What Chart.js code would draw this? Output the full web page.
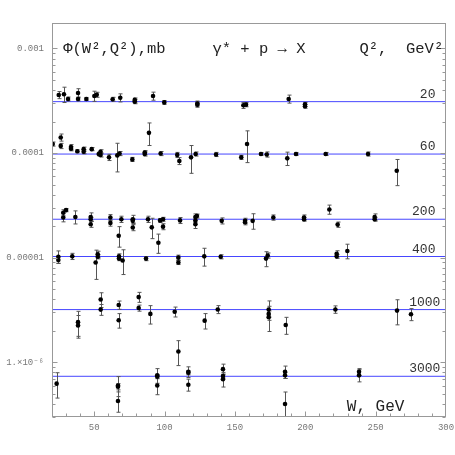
<!DOCTYPE html>
<html lang="en">
<head>
  <meta charset="UTF-8" />
  <title>Phi(W2,Q2) gamma* p</title>
  <script src="https://cdn.jsdelivr.net/npm/chart.js"></script>
  <style>
    * { box-sizing: border-box; margin: 0; padding: 0; }
    body { background: #fff; width: 455px; height: 455px; overflow: hidden; }
    canvas { display: block; }
  </style>
</head>
<body>
<canvas id="chart" width="455" height="455"></canvas>

<script>
  // Q^2 levels (GeV^2) and the flat line drawn through each group
  const q2Labels = ['20', '60', '200', '400', '1000', '3000'];
  const levelValues = [3.10e-4, 9.78e-5, 2.33e-5, 1.026e-5, 3.19e-6, 7.35e-7];

  const xTicks = [50, 100, 150, 200, 250, 300];
  const yTicks = [1e-6, 1e-5, 1e-4, 1e-3];
  const yTickLabels = ['1.×10⁻⁶', '0.00001', '0.0001', '0.001'];

  // Q2 = 20
  const w20 = [24.8, 28.5, 31.4, 38.5, 38.5, 44.4, 50.1, 51.8, 63.1, 68.5, 78.8, 78.8, 91.8, 99.8, 123.3, 123.3, 156.0, 157.9, 188.2, 199.8, 199.8];
  const phi20 = [3.59e-4, 3.65e-4, 3.29e-4, 3.75e-4, 3.29e-4, 3.29e-4, 3.51e-4, 3.61e-4, 3.27e-4, 3.38e-4, 3.22e-4, 3.10e-4, 3.51e-4, 3.05e-4, 2.98e-4, 2.90e-4, 2.86e-4, 2.90e-4, 3.29e-4, 2.92e-4, 2.80e-4];
  const err20 = [2.8e-5, 6.1e-5, 1.4e-5, 3.7e-5, 1.4e-5, 1.1e-5, 3.9e-5, 2.0e-5, 1.4e-5, 3.0e-5, 1.4e-5, 1.4e-5, 3.1e-5, 1.3e-5, 1.6e-5, 1.6e-5, 1.9e-5, 1.3e-5, 2.9e-5, 1.3e-5, 1.2e-5];

  // Q2 = 60
  const w60 = [20.5, 26.2, 26.2, 33.5, 33.5, 38.0, 42.5, 42.5, 48.2, 53.2, 54.5, 54.5, 60.5, 66.4, 68.0, 77.1, 85.9, 85.9, 88.9, 97.2, 109.0, 110.5, 118.8, 122.1, 136.6, 154.5, 158.6, 168.5, 172.6, 187.2, 193.4, 214.5, 244.6, 265.0];
  const phi60 = [1.22e-4, 1.41e-4, 1.17e-4, 1.14e-4, 1.10e-4, 1.04e-4, 1.09e-4, 1.03e-4, 1.09e-4, 9.8e-5, 1.03e-4, 9.6e-5, 9.1e-5, 9.5e-5, 9.9e-5, 8.7e-5, 9.8e-5, 1.01e-4, 1.56e-4, 9.9e-5, 9.6e-5, 8.4e-5, 9.1e-5, 9.8e-5, 9.7e-5, 9.1e-5, 1.22e-4, 9.8e-5, 9.7e-5, 8.9e-5, 9.8e-5, 9.8e-5, 9.8e-5, 6.78e-5];
  const err60 = [5.5e-6, 1.1e-5, 6.7e-6, 6.5e-6, 5.0e-6, 3.5e-6, 5.0e-6, 4.6e-6, 3.7e-6, 4.4e-6, 4.6e-6, 4.3e-6, 6.2e-6, 2.9e-5, 4.5e-6, 3.9e-6, 4.4e-6, 4.5e-6, 3.8e-5, 4.5e-6, 5.4e-6, 6.4e-6, 2.7e-5, 4.4e-6, 4.4e-6, 4.1e-6, 4.1e-5, 3.3e-6, 5.5e-6, 1.3e-5, 3.3e-6, 3.3e-6, 4.4e-6, 1.9e-5];

  // Q2 = 200
  const w200 = [28.0, 28.0, 30.0, 36.6, 47.5, 47.5, 47.5, 61.5, 61.5, 67.4, 69.3, 77.4, 77.4, 77.4, 88.2, 90.9, 95.6, 96.8, 98.9, 98.9, 111.0, 121.9, 121.9, 121.9, 123.0, 140.6, 157.2, 157.2, 162.6, 177.3, 199.1, 199.1, 217.1, 223.0, 249.3, 249.3];
  const phi200 = [2.42e-5, 2.69e-5, 2.85e-5, 2.45e-5, 2.45e-5, 2.33e-5, 2.09e-5, 2.42e-5, 2.15e-5, 1.62e-5, 2.33e-5, 2.33e-5, 2.25e-5, 1.94e-5, 2.33e-5, 1.95e-5, 1.39e-5, 2.27e-5, 2.33e-5, 1.98e-5, 2.27e-5, 2.45e-5, 2.25e-5, 2.09e-5, 2.50e-5, 2.25e-5, 2.25e-5, 2.18e-5, 2.25e-5, 2.42e-5, 2.42e-5, 2.33e-5, 2.89e-5, 2.07e-5, 2.45e-5, 2.33e-5];
  const err200 = [2.2e-6, 1.8e-6, 1.0e-6, 3.5e-6, 2.3e-6, 1.0e-6, 1.4e-6, 1.6e-6, 1.5e-6, 3.6e-6, 1.6e-6, 2.1e-6, 1.0e-6, 1.3e-6, 1.6e-6, 4.3e-6, 2.9e-6, 1.0e-6, 1.0e-6, 1.3e-6, 1.5e-6, 1.7e-6, 1.0e-6, 1.9e-6, 1.1e-6, 1.5e-6, 1.3e-6, 1.2e-6, 3.8e-6, 1.4e-6, 1.4e-6, 1.0e-6, 2.9e-6, 1.2e-6, 1.7e-6, 1.0e-6];

  // Q2 = 400
  const w400 = [24.5, 24.5, 34.4, 51.0, 52.5, 52.5, 67.6, 67.6, 70.2, 86.8, 109.8, 109.8, 128.2, 139.9, 172.1, 173.3, 222.3, 222.3, 229.9];
  const phi400 = [1.02e-5, 9.5e-6, 1.03e-5, 9.0e-6, 1.08e-5, 1.02e-5, 1.03e-5, 9.8e-6, 9.4e-6, 9.8e-6, 1.0e-5, 9.0e-6, 1.03e-5, 1.02e-5, 9.8e-6, 1.05e-5, 1.09e-5, 1.03e-5, 1.16e-5];
  const err400 = [1.4e-6, 6.5e-7, 7.0e-7, 2.8e-6, 7.3e-7, 4.6e-7, 5.8e-7, 4.4e-7, 2.5e-6, 4.4e-7, 5.7e-7, 4.0e-7, 2.0e-6, 4.6e-7, 1.6e-6, 6.0e-7, 7.4e-7, 4.6e-7, 1.85e-6];

  // Q2 = 1000
  const w1000 = [38.5, 38.5, 54.6, 54.6, 67.4, 67.4, 81.6, 81.6, 89.9, 107.2, 128.5, 137.8, 174.0, 174.0, 174.0, 186.1, 221.4, 265.2, 275.1];
  const phi1000 = [2.42e-6, 2.25e-6, 3.98e-6, 3.19e-6, 3.53e-6, 2.52e-6, 4.2e-6, 3.3e-6, 2.90e-6, 3.04e-6, 2.5e-6, 3.2e-6, 3.19e-6, 2.9e-6, 2.7e-6, 2.27e-6, 3.2e-6, 3.12e-6, 2.88e-6];
  const err1000 = [6.5e-7, 5.5e-7, 6.4e-7, 3.8e-7, 3.2e-7, 4.0e-7, 4.6e-7, 2.2e-7, 5.8e-7, 3.3e-7, 4.2e-7, 2.8e-7, 6.7e-7, 2.0e-7, 7.3e-7, 4.2e-7, 2.6e-7, 8.4e-7, 3.8e-7];

  // Q2 = 3000
  const w3000 = [23.3, 66.9, 66.9, 66.9, 94.8, 94.8, 94.8, 109.8, 116.9, 116.9, 116.9, 141.5, 141.5, 141.5, 185.6, 185.6, 185.6, 238.2, 238.2];
  const phi3000 = [6.25e-7, 6.0e-7, 5.85e-7, 4.27e-7, 7.5e-7, 7.3e-7, 6.0e-7, 1.27e-6, 8.1e-7, 7.95e-7, 6.1e-7, 8.6e-7, 7.4e-7, 6.9e-7, 8.1e-7, 7.5e-7, 4.0e-7, 8.1e-7, 7.5e-7];
  const err3000 = [1.7e-7, 1.3e-7, 4.0e-8, 9.4e-8, 1.2e-7, 3.3e-8, 1.1e-7, 3.4e-7, 9.5e-8, 3.6e-8, 8.0e-8, 1.0e-7, 3.3e-8, 1.1e-7, 1.1e-7, 5.0e-8, 1.2e-7, 6.0e-8, 1.0e-7];

  const groups = [
    [w20, phi20, err20],
    [w60, phi60, err60],
    [w200, phi200, err200],
    [w400, phi400, err400],
    [w1000, phi1000, err1000],
    [w3000, phi3000, err3000]
  ];

  const X_MIN = 20, X_MAX = 300;
  const Y_MIN = 3e-7, Y_MAX = 1.75e-3;
  const MONO = '"Liberation Mono", "DejaVu Sans Mono", monospace';

  const datasets = [];
  groups.forEach(([w, phi, err], g) => {
    datasets.push({
      type: 'scatter',
      label: 'Q2=' + q2Labels[g],
      data: w.map((x, i) => ({ x: x, y: phi[i] })),
      errors: err,
      pointRadius: 2.3,
      pointHoverRadius: 2.3,
      pointStyle: 'circle',
      backgroundColor: '#000',
      borderWidth: 0,
      order: 0
    });
    datasets.push({
      type: 'line',
      label: 'fit ' + q2Labels[g],
      data: [{ x: X_MIN, y: levelValues[g] }, { x: X_MAX, y: levelValues[g] }],
      borderColor: 'rgb(70,70,255)',
      borderWidth: 1,
      pointRadius: 0,
      fill: false,
      order: 2
    });
  });

  // vertical error bars with small caps, drawn just before each point set
  const errorBars = {
    id: 'errorBars',
    beforeDatasetDraw(chart, args) {
      const ds = chart.data.datasets[args.index];
      if (!ds.errors) return;
      const xs = chart.scales.x, ys = chart.scales.y, a = chart.chartArea;
      const ctx = chart.ctx;
      ctx.save();
      ctx.beginPath();
      ctx.rect(a.left, a.top, a.right - a.left, a.bottom - a.top);
      ctx.clip();
      ctx.strokeStyle = '#555';
      ctx.lineWidth = 1;
      ds.data.forEach((p, i) => {
        const e = ds.errors[i];
        const x = Math.round(xs.getPixelForValue(p.x)) + 0.5;
        const yHi = ys.getPixelForValue(p.y + e);
        const yLo = ys.getPixelForValue(Math.max(p.y - e, 1e-9));
        ctx.beginPath();
        ctx.moveTo(x, yHi);
        ctx.lineTo(x, yLo);
        ctx.moveTo(x - 2, yHi);
        ctx.lineTo(x + 2, yHi);
        ctx.moveTo(x - 2, yLo);
        ctx.lineTo(x + 2, yLo);
        ctx.stroke();
      });
      ctx.restore();
    }
  };

  // frame, inward ticks, and the text written inside the plot
  const frameAndText = {
    id: 'frameAndText',
    afterDraw(chart) {
      const ctx = chart.ctx, a = chart.chartArea;
      const xs = chart.scales.x, ys = chart.scales.y;
      ctx.save();
      ctx.strokeStyle = '#999';
      ctx.lineWidth = 1;
      const L = Math.round(a.left) + 0.5, R = Math.round(a.right) - 0.5;
      const T = Math.round(a.top) + 0.5, B = Math.round(a.bottom) - 0.5;
      ctx.strokeRect(L, T, R - L, B - T);

      ctx.beginPath();
      for (let d = -7; d <= -3; d++) {
        for (let k = 1; k <= 9; k++) {
          const v = k * Math.pow(10, d);
          if (v < Y_MIN || v > Y_MAX) continue;
          const y = Math.round(ys.getPixelForValue(v)) + 0.5;
          const len = k === 1 ? 5 : 3;
          ctx.moveTo(L, y); ctx.lineTo(L + len, y);
          ctx.moveTo(R, y); ctx.lineTo(R - len, y);
        }
      }
      for (let w = 30; w < X_MAX; w += 10) {
        const x = Math.round(xs.getPixelForValue(w)) + 0.5;
        const len = w % 50 === 0 ? 5 : 3;
        ctx.moveTo(x, B); ctx.lineTo(x, B - len);
      }
      ctx.stroke();

      ctx.fillStyle = '#222';
      ctx.textBaseline = 'middle';
      ctx.font = '15.5px ' + MONO;
      ctx.textAlign = 'left';
      ctx.fillText('Φ(W²,Q²),mb', xs.getPixelForValue(28), ys.getPixelForValue(1e-3));
      ctx.fillText('γ* + p → X', xs.getPixelForValue(134), ys.getPixelForValue(1e-3));
      ctx.textAlign = 'right';
      ctx.fillText('Q²,  GeV²', xs.getPixelForValue(298), ys.getPixelForValue(1e-3));

      ctx.font = '16px ' + MONO;
      ctx.textAlign = 'left';
      ctx.fillText('W, GeV', xs.getPixelForValue(229.5), ys.getPixelForValue(3.75e-7));

      ctx.fillStyle = '#333';
      ctx.font = '13px ' + MONO;
      ctx.textAlign = 'right';
      ctx.textBaseline = 'alphabetic';
      q2Labels.forEach((lab, g) => {
        const xr = lab.length > 3 ? 296 : 292.5;
        ctx.fillText(lab, xs.getPixelForValue(xr), ys.getPixelForValue(levelValues[g]) - 4);
      });
      ctx.restore();
    }
  };

  new Chart(document.getElementById('chart'), {
    type: 'scatter',
    data: { datasets: datasets },
    options: {
      responsive: false,
      animation: false,
      events: [],
      layout: { padding: { top: 23, right: 9, left: 0, bottom: 0 } },
      plugins: { legend: { display: false }, tooltip: { enabled: false } },
      scales: {
        x: {
          type: 'linear',
          min: X_MIN,
          max: X_MAX,
          grid: { display: false, drawTicks: false },
          border: { display: false },
          afterBuildTicks: (s) => { s.ticks = xTicks.map(v => ({ value: v })); },
          afterFit: (s) => { s.height = 38; s.paddingLeft = 0; s.paddingRight = 0; },
          ticks: {
            padding: 5,
            maxRotation: 0,
            color: '#777',
            font: { family: MONO, size: 9 },
            callback: (v) => String(v)
          }
        },
        y: {
          type: 'logarithmic',
          min: Y_MIN,
          max: Y_MAX,
          grid: { display: false, drawTicks: false },
          border: { display: false },
          afterBuildTicks: (s) => { s.ticks = yTicks.map(v => ({ value: v })); },
          afterFit: (s) => { s.width = 52; s.paddingTop = 0; s.paddingBottom = 0; },
          ticks: {
            padding: 8,
            color: '#777',
            font: { family: MONO, size: 9 },
            callback: (v) => {
              const i = yTicks.findIndex(t => Math.abs(t - v) / t < 1e-6);
              return i >= 0 ? yTickLabels[i] : '';
            }
          }
        }
      }
    },
    plugins: [errorBars, frameAndText]
  });
</script>
</body>
</html>
